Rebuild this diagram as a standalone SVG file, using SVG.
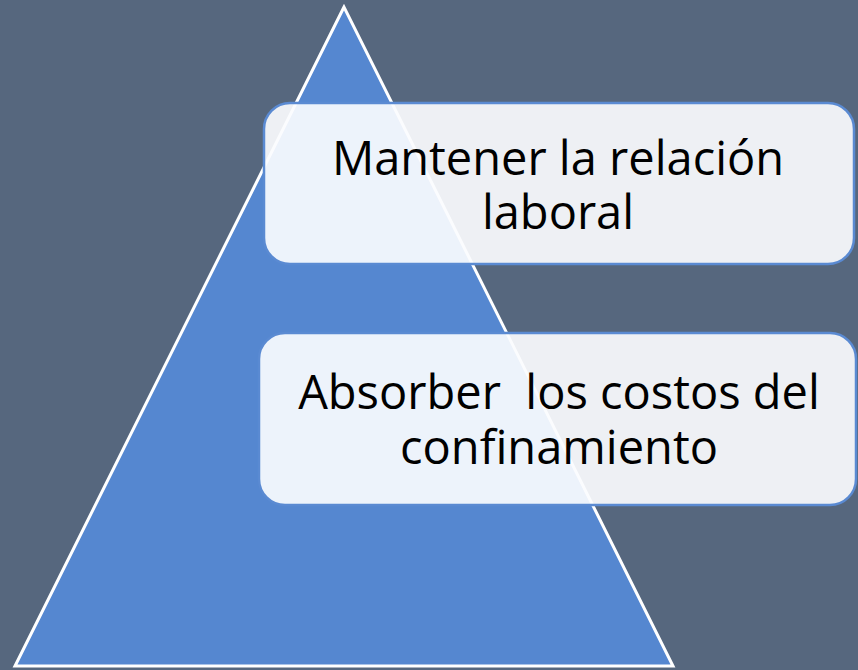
<svg xmlns="http://www.w3.org/2000/svg" width="858" height="670" viewBox="0 0 858 670">
<style>
.box{fill:#fbfcfe;fill-opacity:0.92;stroke:#5a8ad2;stroke-width:2.5}
.t{font-family:"Open Sans","Liberation Sans",sans-serif;font-size:47px;fill:#000;text-anchor:middle;white-space:pre}
</style>
<rect width="858" height="670" fill="#56677e"/>
<g id="pyramid">
<polygon points="344,7 15,666 673,666" fill="#5587d0" stroke="#ffffff" stroke-width="3"/>
</g>
<g id="node1">
<rect class="box" x="264" y="103" width="590" height="161" rx="26"/>
<text class="t" x="558" y="175">Mantener la relación</text>
<text class="t" x="558" y="229">laboral</text>
</g>
<g id="node2">
<rect class="box" x="259" y="333" width="597" height="172" rx="26"/>
<text class="t" x="559" y="409" xml:space="preserve">Absorber  los costos del</text>
<text class="t" x="559" y="464">confinamiento</text>
</g>
<g id="connectors"/>
</svg>
